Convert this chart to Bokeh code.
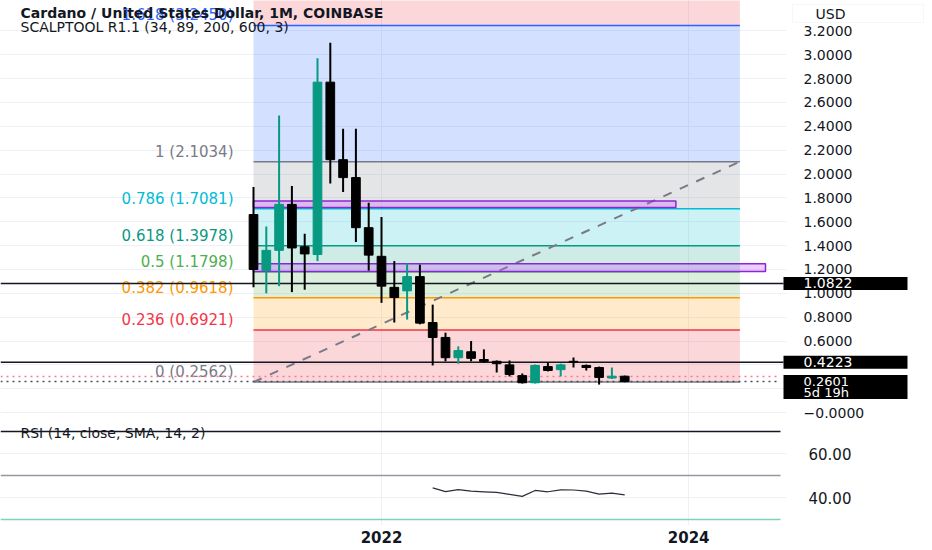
from bokeh.plotting import figure
from bokeh.models import (ColumnDataSource, Range1d, FixedTicker, Label, LinearAxis,
                          BoxAnnotation, NumeralTickFormatter)
from bokeh.layouts import column
from bokeh.embed import file_html
from bokeh.resources import INLINE
from bokeh.core.properties import value

# ---------------------------------------------------------------- data
months = ["2021-03", "2021-04", "2021-05", "2021-06", "2021-07", "2021-08",
          "2021-09", "2021-10", "2021-11", "2021-12", "2022-01", "2022-02",
          "2022-03", "2022-04", "2022-05", "2022-06", "2022-07", "2022-08",
          "2022-09", "2022-10", "2022-11", "2022-12", "2023-01", "2023-02",
          "2023-03", "2023-04", "2023-05", "2023-06", "2023-07", "2023-08"]
opens = [1.66, 1.19, 1.36, 1.745, 1.39, 1.325, 2.77, 2.12, 1.97, 1.55,
         1.31, 1.05, 1.02, 1.14, 0.755, 0.63, 0.46, 0.51, 0.445, 0.43,
         0.40, 0.31, 0.25, 0.386, 0.36, 0.43, 0.395, 0.378, 0.29, 0.305]
highs = [1.89, 1.56, 2.49, 1.90, 1.50, 2.97, 3.10, 2.38, 2.38, 1.76,
         1.64, 1.27, 1.25, 1.24, 0.905, 0.67, 0.555, 0.60, 0.53, 0.437,
         0.437, 0.328, 0.403, 0.42, 0.41, 0.462, 0.403, 0.386, 0.378, 0.31]
lows = [1.05, 1.00, 1.06, 1.01, 1.03, 1.27, 1.92, 1.85, 1.43, 1.19,
        0.92, 0.755, 0.78, 0.74, 0.395, 0.43, 0.41, 0.43, 0.42, 0.336,
        0.303, 0.244, 0.244, 0.345, 0.303, 0.378, 0.353, 0.235, 0.282, 0.255]
closes = [1.20, 1.36, 1.745, 1.38, 1.33, 2.77, 2.12, 1.97, 1.55, 1.32,
          1.06, 0.965, 1.14, 0.75, 0.63, 0.46, 0.52, 0.455, 0.43, 0.41,
          0.32, 0.25, 0.395, 0.353, 0.40, 0.42, 0.378, 0.295, 0.305, 0.2601]

rsi_months = months[14:]
rsi_values = [44.4, 42.7, 43.6, 42.9, 42.6, 42.3, 41.4, 40.5, 43.2, 42.6,
              43.5, 43.4, 42.9, 41.5, 42.0, 41.2]
rsi_bands = [70, 50, 30]
rsi_ticks = [40, 60]

fib_ratios = [0, 0.236, 0.382, 0.5, 0.618, 0.786, 1, 1.618, 2.618]
fib_colors = ["#787b86", "#f23645", "#ff9800", "#4caf50", "#089981",
              "#00bcd4", "#787b86", "#2962ff", "#f23645"]
fib_low = 0.2562
fib_high = 2.1034
fib_start = "2021-03"
fib_end = "2024-05"

h_levels = [1.0822, 0.4223]
last_price = 0.2601
countdown = "5d 19h"
dotted_level = 0.3026

box_start = ["2021-03", "2021-03"]
box_end = ["2023-12", "2024-07"]
box_top = [1.774, 1.247]
box_bottom = [1.720, 1.183]

price_ticks = [round(0.2 * k, 1) for k in range(17)]
year_ticks = ["2022-01", "2024-01"]
year_labels = ["2022", "2024"]

title = "Cardano / United States Dollar, 1M, COINBASE"
subtitle = "SCALPTOOL R1.1 (34, 89, 200, 600, 3)"
rsi_title = "RSI (14, close, SMA, 14, 2)"
currency = "USD"


def midx(m):
    y, mo = map(int, m.split("-"))
    return (y - 2021) * 12 + (mo - 3)


# ---------------------------------------------------------------- layout
W, H = 932, 550
SCALE_X = 780          # px where the price scale begins
MAIN_B = 421           # bottom of price pane
RSI_B = 525            # bottom of RSI pane
PX_MONTH, X0 = 12.8, 253
PX_UNIT, Y0 = 119.3, 412.1

def X(px):
    return (px - X0) / PX_MONTH

def Y(py):
    return (Y0 - py) / PX_UNIT

def dY(dpx):
    return dpx / PX_UNIT

def R(py):
    return 50 - (py - 475) / 2.2

FONT = "DejaVu Sans"
TXT = "#131722"
GRID = "#eef0f5"
UP, DOWN = "#089981", "#000000"

x_range = Range1d(X(0), X(W))


def style_axis(a, standoff, size="15px"):
    a.axis_line_color = None
    a.major_tick_line_color = None
    a.minor_tick_line_color = None
    a.major_tick_out = 0
    a.major_tick_in = 0
    a.minor_tick_out = 0
    a.major_label_standoff = standoff
    a.major_label_text_font = FONT
    a.major_label_text_font_size = size
    a.major_label_text_color = TXT


# ---------------------------------------------------------------- price pane
p = figure(width=W, height=MAIN_B, x_range=x_range, y_range=Range1d(Y(MAIN_B), Y(0)),
           output_backend="svg", toolbar_location=None,
           y_axis_location=None, x_axis_location=None,
           min_border_left=0, min_border_right=0,
           min_border_top=0, min_border_bottom=0)
p.outline_line_color = None
p.ygrid.ticker = FixedTicker(ticks=price_ticks)
p.ygrid.grid_line_color = GRID
p.xgrid.ticker = FixedTicker(ticks=[midx(t) for t in year_ticks])
p.xgrid.grid_line_color = GRID

# scale strip background (hides grid beyond the chart area)
p.quad(left=X(SCALE_X + 6), right=X(W), bottom=Y(MAIN_B), top=Y(0),
       fill_color="white", line_color=None)

# tags on the price scale: (value, lines)
tags = [(h_levels[0], [f"{h_levels[0]:.4f}"]),
        (h_levels[1], [f"{h_levels[1]:.4f}"]),
        (last_price, [f"{last_price:.4f}", countdown])]
tag_extent = []
for v, lines in tags:
    top = v + dY(6.5)
    bottom = v - dY(6.5 + 11 * (len(lines) - 1))
    tag_extent.append((bottom, top))

axis_ticks = [t for t in price_ticks
              if not any(b - dY(3) <= t <= tp + dY(3) for b, tp in tag_extent)]
ax = LinearAxis(ticker=FixedTicker(ticks=axis_ticks),
                formatter=NumeralTickFormatter(format="0.0000"),
                fixed_location=X(SCALE_X))
ax.major_label_overrides = {0: "\u22120.0000"}
style_axis(ax, 23, "14px")
p.add_layout(ax, "right")

# fib zones & levels
fx0, fx1 = midx(fib_start), midx(fib_end)
fib_prices = [fib_low + r * (fib_high - fib_low) for r in fib_ratios]
p.quad(left=fx0, right=fx1, bottom=fib_prices[:-1], top=fib_prices[1:],
       fill_color=fib_colors[1:], fill_alpha=0.2, line_color=None)
lvl_src = ColumnDataSource(dict(
    y=fib_prices[:-1], color=fib_colors[:-1],
    text=[f"{r:g} ({v:.4f})" for r, v in zip(fib_ratios[:-1], fib_prices[:-1])]))
p.segment(x0=fx0, x1=fx1, y0="y", y1="y", line_color="color", line_width=1.5,
          source=lvl_src)
p.line(x=[fx0, fx1], y=[fib_low, fib_high], line_color="#787b86", line_width=2,
       line_dash="9 9")
p.text(x=fx0, y="y", text="text", text_color="color", source=lvl_src,
       text_align="right", text_baseline="bottom", x_offset=-20, y_offset=-1,
       text_font=value(FONT), text_font_size="15px")

# rectangles
p.quad(left=[midx(m) for m in box_start], right=[midx(m) for m in box_end],
       bottom=box_bottom, top=box_top, fill_color="#c05cf5", fill_alpha=0.3,
       line_color="#8e24d8", line_width=1.5)

# horizontal lines
p.segment(x0=X(0), x1=X(SCALE_X + 3), y0=h_levels, y1=h_levels, line_color=TXT,
          line_width=1.5)
p.segment(x0=X(0), x1=X(SCALE_X), y0=dotted_level, y1=dotted_level,
          line_color="#f77c96", line_width=1.5, line_dash="2 4")
p.segment(x0=X(0), x1=X(SCALE_X), y0=last_price, y1=last_price,
          line_color="#4a4e59", line_width=1.5, line_dash="2 4")

# candles
idx = [midx(m) for m in months]
src = ColumnDataSource(dict(
    x=idx, high=highs, low=lows,
    top=[max(o, c) for o, c in zip(opens, closes)],
    bottom=[min(o, c) for o, c in zip(opens, closes)],
    color=[UP if c >= o else DOWN for o, c in zip(opens, closes)]))
p.segment(x0="x", x1="x", y0="low", y1="high", line_color="color", line_width=2,
          source=src)
p.vbar(x="x", width=0.68, top="top", bottom="bottom", fill_color="color",
       line_color="color", line_width=1, source=src)

# texts
p.add_layout(Label(x=X(20), y=Y(12), text=title, text_font=FONT,
                   text_font_size="14px", text_font_style="bold", text_color=TXT,
                   text_baseline="middle"))
p.add_layout(Label(x=X(20), y=Y(26.5), text=subtitle, text_font=FONT,
                   text_font_size="14px", text_color=TXT, text_baseline="middle"))

for (v, lines), (b, tp) in zip(tags, tag_extent):
    p.add_layout(BoxAnnotation(left=X(SCALE_X + 3), right=X(907), bottom=b, top=tp,
                               fill_color="#000000", fill_alpha=1.0, line_color=None))
    size = "14px" if len(lines) == 1 else "13px"
    for k, t in enumerate(lines):
        p.add_layout(Label(x=X(SCALE_X + 23), y=v - dY(11 * k), text=t,
                           text_font=FONT, text_font_size=size,
                           text_color="white", text_baseline="middle"))

p.add_layout(BoxAnnotation(left=X(792), right=X(923), bottom=Y(22), top=Y(4),
                           fill_color="white", fill_alpha=1.0,
                           line_color="#e0e3eb", line_width=1))
p.add_layout(Label(x=X(815), y=Y(13), text=currency, text_font=FONT,
                   text_font_size="14px", text_color=TXT, text_baseline="middle"))

# ---------------------------------------------------------------- RSI pane
r = figure(width=W, height=H - MAIN_B, x_range=x_range,
           y_range=Range1d(R(RSI_B), R(MAIN_B)),
           output_backend="svg", toolbar_location=None,
           y_axis_location=None, x_axis_location="below",
           min_border_left=0, min_border_right=0,
           min_border_top=0, min_border_bottom=H - RSI_B)
r.outline_line_color = None
r.ygrid.ticker = FixedTicker(ticks=rsi_ticks)
r.ygrid.grid_line_color = GRID
r.xgrid.ticker = FixedTicker(ticks=[midx(t) for t in year_ticks])
r.xgrid.grid_line_color = GRID
r.quad(left=X(SCALE_X + 6), right=X(W), bottom=R(RSI_B), top=R(MAIN_B),
       fill_color="white", line_color=None)

ra = LinearAxis(ticker=FixedTicker(ticks=rsi_ticks),
                formatter=NumeralTickFormatter(format="0.00"),
                fixed_location=X(SCALE_X))
style_axis(ra, 28)
r.add_layout(ra, "right")

xa = r.xaxis[0]
style_axis(xa, 5)
xa.ticker = FixedTicker(ticks=[midx(t) for t in year_ticks])
xa.major_label_overrides = {midx(t): lab for t, lab in zip(year_ticks, year_labels)}
xa.major_label_text_font_style = "bold"

band_colors = [TXT, "#9598a1", "#7fd1c0"]
r.segment(x0=X(0), x1=X(SCALE_X), y0=rsi_bands, y1=rsi_bands,
          line_color=band_colors, line_width=1.5)
r.line(x=[midx(m) for m in rsi_months], y=rsi_values, line_color="#2a2e39",
       line_width=1.2)
r.add_layout(Label(x=X(20), y=R(432), text=rsi_title, text_font=FONT,
                   text_font_size="14px", text_color=TXT, text_baseline="middle"))

layout = column(p, r, spacing=0)
open("out.html", "w").write(file_html(layout, INLINE))
